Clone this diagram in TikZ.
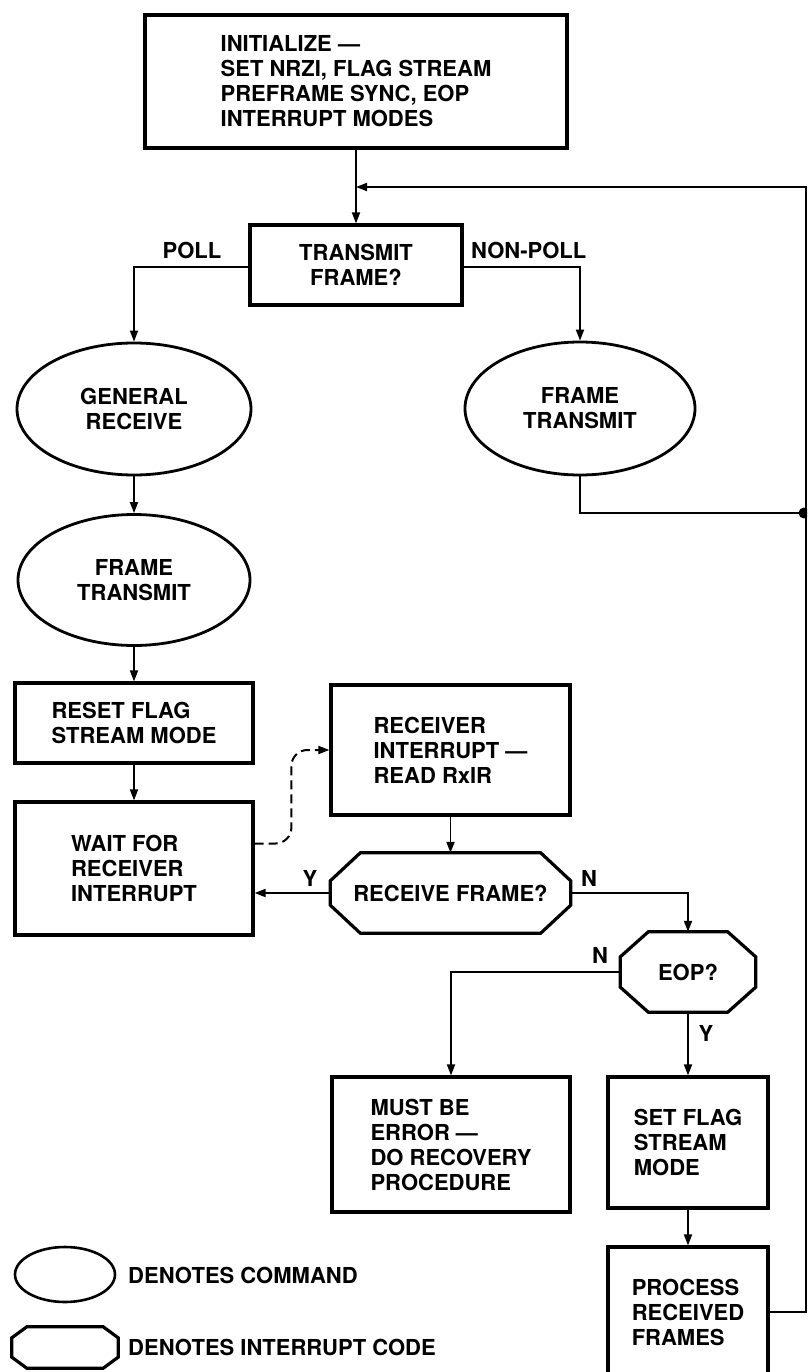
\documentclass[tikz,border=0pt]{standalone}
\usepackage{fontspec}
\setmainfont{TeX Gyre Heros}
\usetikzlibrary{shapes.geometric,arrows.meta,calc}

\tikzset{
  lbl/.style={font=\fontsize{22}{25}\selectfont\bfseries, inner sep=0pt},
  boxnode/.style={lbl, draw, rectangle, line width=3.2pt, align=left},
  cmdnode/.style={lbl, draw, ellipse, line width=2.8pt, align=center},
  octnode/.style={lbl, rectangle, align=center},
  octframe/.style={line width=3.2pt, line join=miter},
  link/.style={line width=1.8pt},
  flow/.style={link, -{Triangle[length=11pt,width=8pt]}},
}

% octagonal outline around a named node: node, horizontal chamfer, vertical chamfer
\newcommand\octoutline[3]{%
  \draw[octframe]
    ($(#1.north west)+(#2,0)$) -- ($(#1.north east)+(-#2,0)$)
    -- ($(#1.north east)+(0,#3)$) -- ($(#1.south east)+(0,-#3)$)
    -- ($(#1.south east)+(-#2,0)$) -- ($(#1.south west)+(#2,0)$)
    -- ($(#1.south west)+(0,-#3)$) -- ($(#1.north west)+(0,#3)$) -- cycle;}

\begin{document}
\begin{tikzpicture}[x=1pt, y=-1pt]
\useasboundingbox (0,0) rectangle (807,1372);
\fill[white] (0,0) rectangle (807,1372);
\clip (0,0) rectangle (807,1372);

% main flow
\node[boxnode, minimum width=422pt, minimum height=133pt] (init) at (356,81.5)
  {INITIALIZE —\\SET NRZI, FLAG STREAM\\PREFRAME SYNC, EOP\\INTERRUPT MODES};
\node[boxnode, align=center, minimum width=212pt, minimum height=80pt] (tx) at (356,265)
  {TRANSMIT\\FRAME?};
\node[lbl] (poll) at (192,250) {POLL};
\node[lbl, anchor=west] (npoll) at (471,250) {NON-POLL};

\node[cmdnode, minimum width=234pt, minimum height=132pt] (gr) at (134,409) {GENERAL\\RECEIVE};
\node[cmdnode, minimum width=230pt, minimum height=133pt] (ft1) at (580,408.5) {FRAME\\TRANSMIT};
\node[cmdnode, minimum width=232pt, minimum height=131pt] (ft2) at (134,580) {FRAME\\TRANSMIT};

\node[boxnode, minimum width=238pt, minimum height=80pt] (reset) at (134,723)
  {RESET FLAG\\STREAM MODE};
\node[boxnode, minimum width=238pt, minimum height=133pt] (wait) at (134,868.5)
  {WAIT FOR\\RECEIVER\\INTERRUPT};
\node[boxnode, minimum width=239pt, minimum height=130pt] (rxi) at (450.5,750)
  {RECEIVER\\INTERRUPT —\\READ RxIR};

\node[octnode, minimum width=240pt, minimum height=80pt] (rf) at (450.5,893) {RECEIVE FRAME?};
\octoutline{rf}{30}{28}
\node[octnode, minimum width=135pt, minimum height=80pt] (eop) at (688,972) {EOP?};
\octoutline{eop}{28}{25}

\node[boxnode, minimum width=238pt, minimum height=135pt] (must) at (451,1144.5)
  {MUST BE\\ERROR —\\DO RECOVERY\\PROCEDURE};
\node[boxnode, minimum width=160pt, minimum height=131pt] (sf) at (688,1142.5)
  {SET FLAG\\STREAM\\MODE};
\node[boxnode, minimum width=160pt, minimum height=130pt] (proc) at (688,1312)
  {PROCESS\\RECEIVED\\FRAMES};

% branch labels
\node[lbl] (ylab1) at (310,878) {Y};
\node[lbl] (nlab1) at (589,878) {N};
\node[lbl] (nlab2) at (600,955) {N};
\node[lbl] (ylab2) at (706,1033) {Y};

% connectors
\coordinate (merge) at (356,187);
\coordinate (jn) at (804,513);
\draw[flow] (init.south) -- (tx.north);
\draw[flow] (proc.east) -- ++(36,0) |- (merge);
\draw[link] (ft1.south) |- (jn);
\fill (jn) circle[radius=5.5pt];
\draw[flow] ([yshift=-2pt]tx.west) -| (gr.north);
\draw[flow] ([yshift=-2pt]tx.east) -| (ft1.north);
\draw[flow] (gr.south) -- (ft2.north);
\draw[flow] (ft2.south) -- (reset.north);
\draw[flow] (reset.south) -- (wait.north);
\draw[flow, line width=2pt, dash pattern=on 9pt off 5pt, rounded corners=16pt]
  ([yshift=25pt]wait.east) -| ([xshift=-38pt]rxi.west) -- (rxi.west);
\draw[flow] (rxi.south) -- (rf.north);
\draw[flow] (rf.west) -- (rf.west -| wait.east);
\draw[flow] (rf.east) -| (eop.north);
\draw[flow] (eop.west) -| (must.north);
\draw[flow] (eop.south) -- (sf.north);
\draw[flow] (sf.south) -- (proc.north);

% key
\node[lbl, draw, ellipse, line width=2.6pt, minimum width=100pt, minimum height=55pt] (keycmd) at (65,1274.5) {};
\node[lbl, anchor=west] (keycmdtxt) at (128,1275) {DENOTES COMMAND};
\node[octnode, minimum width=106pt, minimum height=41pt] (keyint) at (65,1347.5) {};
\octoutline{keyint}{15}{11}
\node[lbl, anchor=west] (keyinttxt) at (128,1347) {DENOTES INTERRUPT CODE};
\end{tikzpicture}
\end{document}
